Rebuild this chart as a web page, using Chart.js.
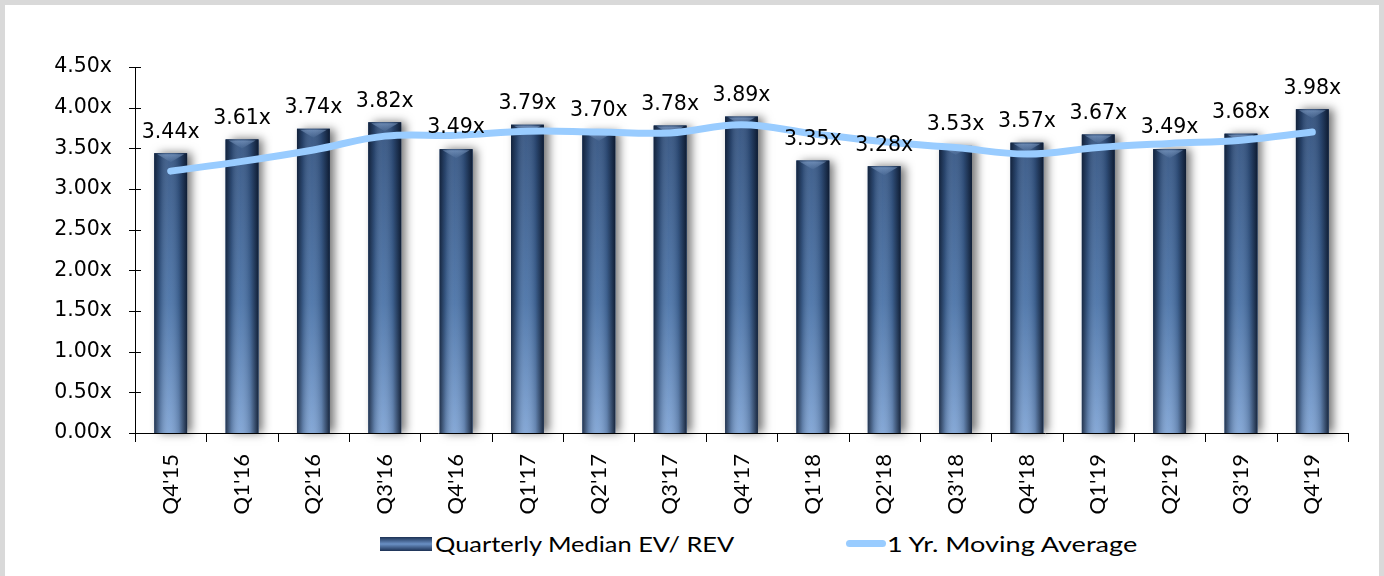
<!DOCTYPE html>
<html>
<head>
<meta charset="utf-8">
<script src="https://cdn.jsdelivr.net/npm/chart.js@4.4.1/dist/chart.umd.min.js"></script>
<style>
    body { margin: 0; width: 1384px; height: 576px; background: #d9d9d9; position: relative; overflow: hidden; }
    .panel { position: absolute; left: 5px; top: 5px; width: 1374px; height: 571px; background: #fff; }
    #chart-wrap { position: absolute; left: 0; top: 0; width: 1384px; height: 530px; }
    .legend { position: absolute; top: 530px; left: 0; width: 1384px; height: 28px; font-family: Lato, 'Open Sans', sans-serif; font-size: 21px; color: #000; }
    .legend span { position: absolute; top: 0; line-height: 28px; white-space: nowrap; transform-origin: left center; }
    .swatch-bar { position: absolute; left: 380px; top: 7px; width: 52px; height: 14px;
        background: linear-gradient(to bottom, #1c3154, #6a90c4 50%, #1c3154); }
    .swatch-line { position: absolute; left: 846px; top: 10px; width: 40px; height: 7px; border-radius: 4px; background: #99ccff; }
</style>
</head>
<body>
<div class="panel"></div>
<div id="chart-wrap"><canvas id="evChart" width="1384" height="530"></canvas></div>
<div class="legend">
    <div class="swatch-bar"></div>
    <span style="left:435px; transform: scaleX(1.21)">Quarterly Median EV/ REV</span>
    <div class="swatch-line"></div>
    <span style="left:887px; transform: scaleX(1.29)">1 Yr. Moving Average</span>
</div>
<script>
// Chart data
const quarters = ["Q4'15", "Q1'16", "Q2'16", "Q3'16", "Q4'16", "Q1'17", "Q2'17", "Q3'17", "Q4'17",
    "Q1'18", "Q2'18", "Q3'18", "Q4'18", "Q1'19", "Q2'19", "Q3'19", "Q4'19"];
const medianEvRev = [3.44, 3.61, 3.74, 3.82, 3.49, 3.79, 3.70, 3.78, 3.89,
    3.35, 3.28, 3.53, 3.57, 3.67, 3.49, 3.68, 3.98];
const movingAvg = [3.22, 3.34, 3.48, 3.65, 3.66, 3.71, 3.70, 3.69, 3.79,
    3.68, 3.58, 3.51, 3.43, 3.51, 3.56, 3.60, 3.70];
const yTicks = [0, 0.5, 1, 1.5, 2, 2.5, 3, 3.5, 4, 4.5];

// Bar shading, shadows, tick marks and value labels
const barStyle = {
    id: 'barStyle',
    beforeDatasetDraw(chart, args) {
        if (args.index !== 1) return;
        const ctx = chart.ctx;
        ctx.save();
        ctx.shadowColor = 'rgba(0,0,0,0.55)';
        ctx.shadowBlur = 9;
        ctx.shadowOffsetX = 5;
        ctx.shadowOffsetY = 0;
        ctx.fillStyle = '#2a466e';
        args.meta.data.forEach(bar => {
            ctx.fillRect(bar.x - bar.width / 2, bar.y, bar.width, bar.base - bar.y);
        });
        ctx.restore();
    },
    afterDatasetDraw(chart, args) {
        if (args.index !== 1) return;
        const ctx = chart.ctx;
        ctx.save();
        args.meta.data.forEach(bar => {
            const left = bar.x - bar.width / 2;
            const h = bar.base - bar.y;
            const g = ctx.createLinearGradient(left, 0, left + bar.width, 0);
            g.addColorStop(0, 'rgba(8,18,36,0.75)');
            g.addColorStop(0.18, 'rgba(8,18,36,0.25)');
            g.addColorStop(0.45, 'rgba(255,255,255,0.06)');
            g.addColorStop(0.75, 'rgba(8,18,36,0.2)');
            g.addColorStop(1, 'rgba(8,18,36,0.85)');
            ctx.fillStyle = g;
            ctx.fillRect(left, bar.y, bar.width, h);
            // top bevel
            const t = ctx.createLinearGradient(0, bar.y, 0, bar.y + 10);
            t.addColorStop(0, 'rgba(150,180,220,0.55)');
            t.addColorStop(1, 'rgba(150,180,220,0)');
            ctx.fillStyle = t;
            ctx.beginPath();
            ctx.moveTo(left + 3, bar.y + 1);
            ctx.lineTo(left + bar.width - 3, bar.y + 1);
            ctx.lineTo(bar.x, bar.y + 9);
            ctx.closePath();
            ctx.fill();
        });
        ctx.restore();
    },
    afterDatasetsDraw(chart) {
        const ctx = chart.ctx;
        const x = chart.scales.x;
        const y = chart.scales.y;
        ctx.save();
        ctx.strokeStyle = '#000';
        ctx.lineWidth = 1;
        ctx.beginPath();
        y.ticks.forEach((t, i) => {
            const py = Math.round(y.getPixelForTick(i)) + 0.5;
            ctx.moveTo(x.left - 6, py);
            ctx.lineTo(x.left + 6, py);
        });
        for (let i = 0; i <= quarters.length; i++) {
            const px = Math.round(x.left + (x.right - x.left) * i / quarters.length) + 0.5;
            ctx.moveTo(px, y.bottom);
            ctx.lineTo(px, y.bottom + 9);
        }
        ctx.stroke();

        // value labels above bars
        ctx.fillStyle = '#000';
        ctx.font = '20.5px "DejaVu Sans"';
        ctx.textAlign = 'center';
        ctx.textBaseline = 'middle';
        chart.getDatasetMeta(1).data.forEach((bar, i) => {
            ctx.fillText(medianEvRev[i].toFixed(2) + 'x', bar.x, bar.y - 21);
        });
        ctx.restore();
    }
};

const ctx = document.getElementById('evChart').getContext('2d');
const evChart = new Chart(ctx, {
    type: 'bar',
    data: {
        labels: quarters,
        datasets: [
            {
                type: 'line',
                label: '1 Yr. Moving Average',
                data: movingAvg,
                borderColor: '#99ccff',
                borderWidth: 7,
                tension: 0.4,
                pointRadius: 0,
                borderCapStyle: 'round',
                order: 0
            },
            {
                label: 'Quarterly Median EV/ REV',
                data: medianEvRev,
                backgroundColor: (c) => {
                    const area = c.chart.chartArea;
                    if (!area) return '#34598a';
                    const g = c.chart.ctx.createLinearGradient(0, area.top + 40, 0, area.bottom);
                    g.addColorStop(0, '#2e4d7a');
                    g.addColorStop(0.6, '#4a73a8');
                    g.addColorStop(1, '#7ea3d4');
                    return g;
                },
                barPercentage: 0.92,
                categoryPercentage: 0.5,
                order: 1
            }
        ]
    },
    options: {
        responsive: false,
        animation: false,
        layout: { padding: { top: 67, right: 36, left: 0, bottom: 0 } },
        plugins: {
            legend: { display: false },
            tooltip: { enabled: false }
        },
        scales: {
            x: {
                grid: { display: false },
                border: { color: '#000', width: 1 },
                ticks: {
                    minRotation: 90,
                    maxRotation: 90,
                    padding: 13,
                    color: '#000',
                    font: { family: 'Lato, sans-serif', size: 22 }
                },
                afterFit(scale) { scale.height = 97; }
            },
            y: {
                min: 0,
                max: 4.5,
                afterBuildTicks(scale) { scale.ticks = yTicks.map(v => ({ value: v })); },
                grid: { display: false },
                border: { color: '#000', width: 1 },
                ticks: {
                    padding: 15,
                    color: '#000',
                    font: { family: '"DejaVu Sans"', size: 20.5 },
                    callback: (v) => v.toFixed(2) + 'x'
                },
                afterFit(scale) { scale.width = 135; }
            }
        }
    },
    plugins: [barStyle]
});
</script>
</body>
</html>
